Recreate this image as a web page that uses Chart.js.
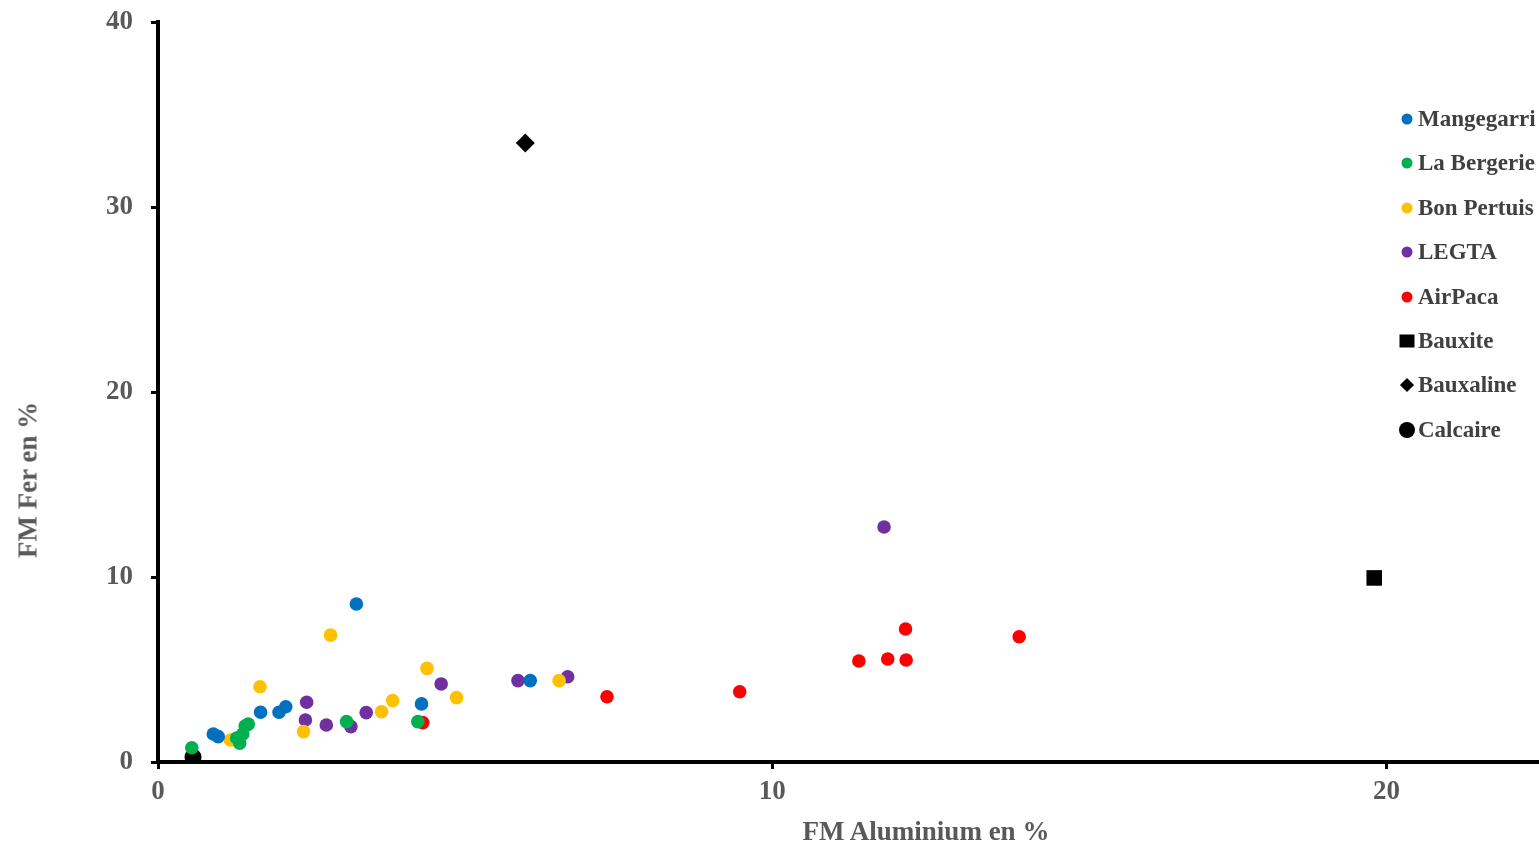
<!doctype html>
<html lang="fr">

<head>
  <meta charset="utf-8">
  <title>FM Fer / FM Aluminium</title>
  <style>
    html, body { margin: 0; background: #fff; overflow: hidden; }
    #zone { position: relative; width: 1539px; height: 848px; overflow: hidden; }
    /* le canevas deborde un peu a droite pour que l'axe X touche le bord */
    #zone canvas { display: block; width: 1548px; height: 848px; }
    .titre { position: absolute; font-family: "Liberation Serif", "Times New Roman", serif; font-weight: bold; font-size: 27px; color: #595959; white-space: nowrap; }
    #titreX { left: 926px; top: 816px; transform: translateX(-50%); }
    #titreY { left: 28px; top: 480px; transform: translate(-50%, -50%) rotate(-90deg); }
    #legende { position: absolute; left: 1398px; top: 106px; font-family: "Liberation Serif", "Times New Roman", serif; font-weight: bold; font-size: 23px; color: #404040; white-space: nowrap; }
    #legende div { height: 44.4px; display: flex; align-items: flex-start; }
    #legende span.m { display: inline-block; width: 18px; height: 26px; position: relative; }
    #legende span.m i { position: absolute; left: 50%; top: 50%; transform: translate(-50%, -50%); }
  </style>
</head>

<body>
  <div id="zone">
    <canvas id="graphique" width="1548" height="848"></canvas>
    <div class="titre" id="titreX">FM Aluminium en %</div>
    <div class="titre" id="titreY">FM Fer en %</div>
    <div id="legende"></div>
  </div>

  <script src="https://cdn.jsdelivr.net/npm/chart.js"></script>

  <script>
    // series (x = FM Aluminium %, y = FM Fer %)
    const series = ['Mangegarri', 'La Bergerie', 'Bon Pertuis', 'LEGTA', 'AirPaca', 'Bauxite', 'Bauxaline', 'Calcaire'];

    const mangegarriAl = [0.90, 0.98, 1.67, 1.97, 2.08, 3.23, 4.29, 6.06];
    const mangegarriFe = [1.51, 1.37, 2.69, 2.69, 2.99, 8.54, 3.14, 4.40];

    const bergerieAl = [0.55, 1.28, 1.33, 1.38, 1.42, 1.47, 3.07, 4.23];
    const bergerieFe = [0.77, 1.30, 1.01, 1.51, 1.95, 2.05, 2.18, 2.18];

    const pertuisAl = [1.18, 1.66, 2.37, 2.81, 3.64, 3.82, 4.38, 4.86, 6.53];
    const pertuisFe = [1.19, 4.07, 1.64, 6.86, 2.72, 3.32, 5.06, 3.48, 4.40];

    const legtaAl = [2.40, 2.42, 2.74, 3.14, 3.39, 4.61, 5.86, 6.67, 11.82];
    const legtaFe = [2.27, 3.23, 2.00, 1.91, 2.67, 4.22, 4.40, 4.61, 12.70];

    const airpacaAl = [4.31, 7.31, 9.47, 11.41, 11.88, 12.18, 12.17, 14.02];
    const airpacaFe = [2.13, 3.53, 3.80, 5.46, 5.57, 5.51, 7.19, 6.77];

    const bauxiteAl = [19.80];
    const bauxiteFe = [9.95];

    const bauxalineAl = [5.98];
    const bauxalineFe = [33.46];

    const calcaireAl = [0.57];
    const calcaireFe = [0.27];

    const ticksX = [0, 10, 20];
    const ticksY = [0, 10, 20, 30, 40];

    const couleurs = ['#0070C0', '#00B050', '#FFC000', '#7030A0', '#FF0000', '#000000', '#000000', '#000000'];
    const formes = ['circle', 'circle', 'circle', 'circle', 'circle', 'rect', 'rectRot', 'circle'];
    const rayons = [6.8, 6.8, 6.8, 6.8, 6.8, 11, 9.5, 8.5];

    const valeurs = [
      [mangegarriAl, mangegarriFe],
      [bergerieAl, bergerieFe],
      [pertuisAl, pertuisFe],
      [legtaAl, legtaFe],
      [airpacaAl, airpacaFe],
      [bauxiteAl, bauxiteFe],
      [bauxalineAl, bauxalineFe],
      [calcaireAl, calcaireFe]
    ];

    const jeux = series.map((nom, i) => ({
      label: nom,
      data: valeurs[i][0].map((x, k) => ({ x: x, y: valeurs[i][1][k] })),
      backgroundColor: couleurs[i],
      borderWidth: 0,
      pointStyle: formes[i],
      pointRadius: rayons[i],
      pointHoverRadius: rayons[i]
    }));

    const police = { family: '"Liberation Serif", "Times New Roman", serif', size: 27, weight: 'bold' };

    new Chart(document.getElementById('graphique'), {
      type: 'scatter',
      data: { datasets: jeux },
      options: {
        responsive: false,
        animation: false,
        layout: { padding: { top: 22, right: 0, left: 0, bottom: 0 } },
        scales: {
          x: {
            type: 'linear',
            min: 0,
            max: 22.45,
            afterBuildTicks: s => { s.ticks = ticksX.map(v => ({ value: v })); },
            afterFit: s => { s.height = 86; s.paddingLeft = 0; s.paddingRight = 0; },
            ticks: { color: '#595959', font: police, padding: 7, maxRotation: 0 },
            grid: { drawOnChartArea: false, drawTicks: true, tickLength: 7, color: '#000', lineWidth: 3 },
            border: { color: '#000', width: 4 }
          },
          y: {
            type: 'linear',
            min: 0,
            max: 40,
            afterBuildTicks: s => { s.ticks = ticksY.map(v => ({ value: v })); },
            afterFit: s => { s.width = 158; s.paddingTop = 0; s.paddingBottom = 0; },
            ticks: { color: '#595959', font: police, padding: 18 },
            grid: { drawOnChartArea: false, drawTicks: true, tickLength: 7, color: '#000', lineWidth: 3 },
            border: { color: '#000', width: 4 }
          }
        },
        plugins: {
          legend: { display: false },
          tooltip: { enabled: false }
        }
      }
    });

    // legende HTML
    const legende = document.getElementById('legende');
    series.forEach((nom, i) => {
      const ligne = document.createElement('div');
      const m = document.createElement('span');
      m.className = 'm';
      const p = document.createElement('i');
      if (formes[i] === 'circle') {
        const d = i === 7 ? 16 : 11;
        p.style.cssText = `width:${d}px;height:${d}px;border-radius:50%;background:${couleurs[i]}`;
      } else if (formes[i] === 'rect') {
        p.style.cssText = `width:15px;height:13px;background:${couleurs[i]}`;
      } else {
        p.style.cssText = `width:10px;height:10px;background:${couleurs[i]};transform:translate(-50%,-50%) rotate(45deg)`;
      }
      m.appendChild(p);
      const t = document.createElement('span');
      t.textContent = nom;
      t.style.marginLeft = '2px';
      ligne.appendChild(m);
      ligne.appendChild(t);
      legende.appendChild(ligne);
    });
  </script>
</body>

</html>
